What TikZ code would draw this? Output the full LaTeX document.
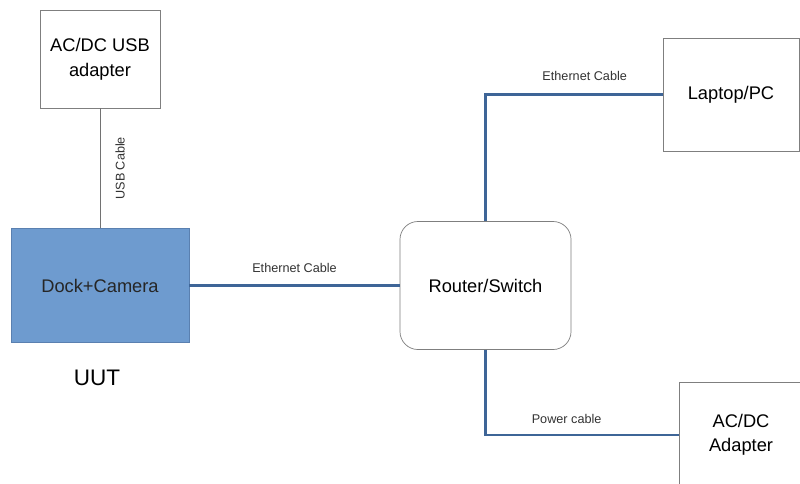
\documentclass[tikz,border=0pt]{standalone}
\usepackage{fontspec}
\setmainfont{Liberation Sans}
\usepackage{tikz}
\usepackage{xcolor}
\definecolor{dockblue}{HTML}{6E9BCF}
\definecolor{dockline}{HTML}{5A80B0}
\definecolor{cableblue}{HTML}{3E6597}
\definecolor{boxgray}{HTML}{7F7F7F}
\tikzstyle{box}=[rectangle, draw=boxgray, fill=white, line width=.5pt, align=center, font=\fontsize{13}{17}\selectfont, inner sep=0pt]
\tikzstyle{dev} = [box, fill=dockblue, draw=dockline, text=black!85]
\tikzstyle{hub} = [box, rounded corners=.45cm]
\tikzstyle{edge} = [draw, line width=2pt, -, cableblue]
\tikzstyle{thin} = [draw, line width=.7pt, -, boxgray!90!black]
\tikzstyle{lbl} = [font=\fontsize{9}{10}\selectfont, text=black!80, inner sep=0pt]

\begin{document}
\begin{tikzpicture}[x=.025cm, y=-.025cm]

					\clip (0,0) rectangle (800,483);
					\fill[white] (0,0) rectangle (800,483);

					\node[box, minimum width=3cm, minimum height=2.45cm, font=\fontsize{13}{18}\selectfont] (usb_ad) at (100,59) {AC/DC USB\\adapter};
					\node[dev, minimum width=4.45cm, minimum height=2.85cm] (dock) at (100,285.5) {Dock+Camera};
					\node[font=\fontsize{16}{18}\selectfont] (uut) at (97,378) {UUT};

					\node[hub, minimum width=4.275cm, minimum height=3.2cm] (router) at (485.5,285.5) {Router/Switch};
					\node[box, minimum width=3.4cm, minimum height=2.825cm] (pc) at (731,94.5) {Laptop/PC};
					\node[box, minimum width=3.1cm, minimum height=2.65cm] (ac_ad) at (741,435) {AC/DC\\Adapter};

					% usb side
					\draw[thin] (dock) -- node[lbl, midway, sloped, below=10.6pt] {USB Cable} (usb_ad);

					% network side
					\draw[edge] (dock) -- node[lbl, midway, above=8.5pt] {Ethernet Cable} (router);
					\draw[edge] (router.north) |- node[lbl, pos=.78, above=9pt] {Ethernet Cable} (pc.west);
					\draw[edge] (router.south) |- node[lbl, pos=.71, above=7pt] {Power cable} (ac_ad.west);
				\end{tikzpicture}
\end{document}
